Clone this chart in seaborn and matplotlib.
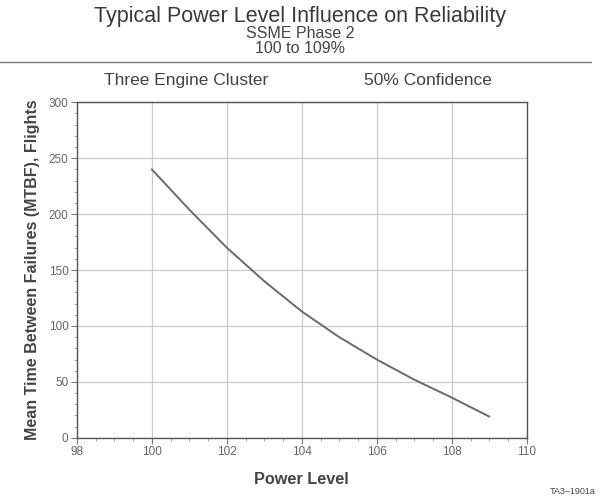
import matplotlib
matplotlib.use("Agg")
import matplotlib.pyplot as plt
import seaborn as sns
import pandas as pd
from matplotlib.ticker import MultipleLocator

# Data
power_level = [100, 101, 102, 103, 104, 105, 106, 107, 108, 109]
mtbf_flights = [240, 204, 170, 140, 113, 90, 70, 52, 36, 19]

df = pd.DataFrame({"Power Level": power_level, "MTBF": mtbf_flights})

sns.set_theme(style="white")
plt.rcParams["font.family"] = ["Liberation Sans", "DejaVu Sans"]

TXT = "#444444"
fig = plt.figure(figsize=(6.0, 5.01), dpi=100)
ax = fig.add_axes([0.128, 0.126, 0.750, 0.670])

sns.lineplot(data=df, x="Power Level", y="MTBF", ax=ax, color="#6a6a6a", linewidth=1.4)

ax.set_xlim(98, 110)
ax.set_ylim(0, 300)
ax.xaxis.set_major_locator(MultipleLocator(2))
ax.xaxis.set_minor_locator(MultipleLocator(0.5))
ax.yaxis.set_major_locator(MultipleLocator(50))
ax.yaxis.set_minor_locator(MultipleLocator(10))
ax.grid(True, which="major", color="#cccccc", linewidth=0.9)
for s in ax.spines.values():
    s.set_color("#555555")
    s.set_linewidth(1.0)
ax.tick_params(which="major", direction="out", length=4, width=0.8, color="#777777",
               labelsize=8.5, labelcolor="#666666", pad=2, bottom=True, left=True)
ax.tick_params(which="minor", direction="out", length=2.5, width=0.6, color="#999999",
               bottom=True, left=True)

ax.set_xlabel("Power Level", fontsize=11.7, fontweight="bold", color=TXT, labelpad=10)
ax.set_ylabel("Mean Time Between Failures (MTBF), Flights", fontsize=11.5,
              fontweight="bold", color=TXT, labelpad=6)

fig.text(0.5, 0.968, "Typical Power Level Influence on Reliability", ha="center", va="center",
         fontsize=15.5, color="#3a3a3a")
fig.text(0.5, 0.933, "SSME Phase 2", ha="center", va="center", fontsize=11.5, color=TXT)
fig.text(0.5, 0.904, "100 to 109%", ha="center", va="center", fontsize=11.5, color=TXT)
fig.add_artist(plt.Line2D([0.0, 0.985], [0.877, 0.877], transform=fig.transFigure,
                          color="#777777", linewidth=1.0))
fig.text(0.310, 0.840, "Three Engine Cluster", ha="center", va="center", fontsize=12.5, color=TXT)
fig.text(0.713, 0.840, "50% Confidence", ha="center", va="center", fontsize=12.5, color=TXT)
fig.text(0.955, 0.018, "TA3\u20131901a", ha="center", va="center", fontsize=6.5, color=TXT)

fig.savefig("out.png", dpi=100)
